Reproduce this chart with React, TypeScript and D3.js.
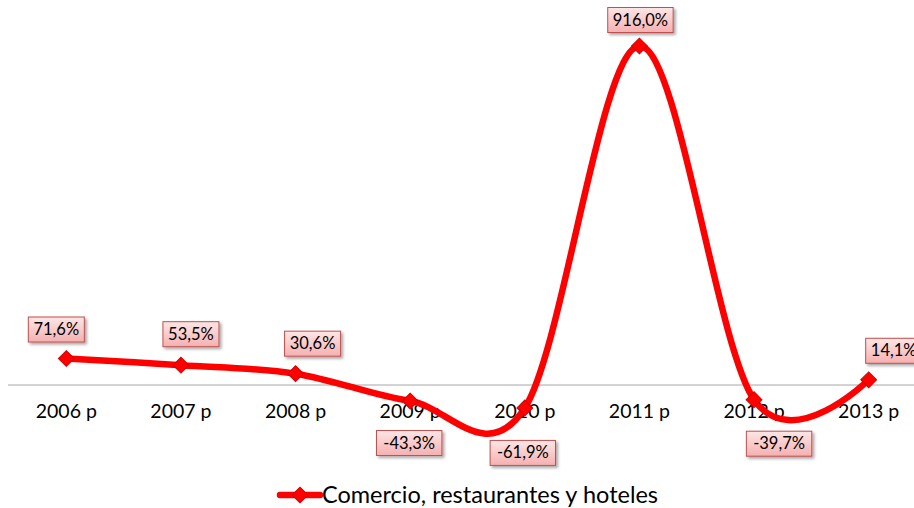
import * as d3 from "d3";

const years = ["2006 p", "2007 p", "2008 p", "2009 p", "2010 p", "2011 p", "2012 p", "2013 p"];
const values = [71.6, 53.5, 30.6, -43.3, -61.9, 916.0, -39.7, 14.1];
const labels = ["71,6%", "53,5%", "30,6%", "-43,3%", "-61,9%", "916,0%", "-39,7%", "14,1%"];
const seriesName = "Comercio, restaurantes y hoteles";

// manual label offsets, like the hand-placed labels in the original
const labelDx = [-10, 10, 17, -1, -2, 1, 25, 25];
const labelDy = [-29, -31, -30, 42, 45, -26, 44, -29];

const width = 914;
const height = 508;
const font = "Lato, 'Open Sans', sans-serif";

const App = () => {
  const x = d3.scaleBand<string>().domain(years).range([9, 926]);
  const y = d3.scaleLinear().domain([0, 916]).range([385, 46]);

  const pts: [number, number][] = values.map((v, i) => [
    (x(years[i]) ?? 0) + x.bandwidth() / 2,
    y(v),
  ]);

  const line = d3.line().curve(d3.curveCardinal.tension(0));
  const marker = d3.symbol().type(d3.symbolSquare).size(125)();

  return (
    <svg
      width={width}
      height={height}
      style={{ position: "fixed", left: 0, top: 0, background: "#fff" }}
    >
      <defs>
        <linearGradient id="lblFill" x1="0" y1="0" x2="0" y2="1">
          <stop offset="0%" stopColor="#fde6e6" />
          <stop offset="100%" stopColor="#f5b0b0" />
        </linearGradient>
        <filter id="shadow" x="-20%" y="-20%" width="150%" height="160%">
          <feDropShadow dx="2" dy="2" stdDeviation="1.5" floodColor="#000" floodOpacity="0.35" />
        </filter>
      </defs>

      {/* zero axis */}
      <line x1={8} x2={914} y1={y(0)} y2={y(0)} stroke="#a6a6a6" strokeWidth={1} />

      {years.map((yr) => (
        <text
          key={yr}
          x={(x(yr) ?? 0) + x.bandwidth() / 2}
          y={418}
          textAnchor="middle"
          fontFamily={font}
          fontSize={19.5}
          fill="#000"
        >
          {yr}
        </text>
      ))}

      <path d={line(pts) ?? ""} fill="none" stroke="#ff0000" strokeWidth={6.5} strokeLinejoin="round" />

      {pts.map(([px, py], i) => (
        <path
          key={i}
          d={marker ?? ""}
          transform={`translate(${px},${py}) rotate(45)`}
          fill="#ff0000"
          stroke="#d40000"
          strokeWidth={1}
        />
      ))}

      {pts.map(([px, py], i) => {
        const cx = px + labelDx[i];
        const cy = py + labelDy[i];
        const w = labels[i].length * 9.4 + 9;
        return (
          <g key={"l" + i}>
            <rect
              x={cx - w / 2}
              y={cy - 12.5}
              width={w}
              height={25}
              fill="url(#lblFill)"
              stroke="#c0504d"
              strokeWidth={1}
              filter="url(#shadow)"
            />
            <text
              x={cx}
              y={cy + 5.5}
              textAnchor="middle"
              fontFamily={font}
              fontSize={16.5}
              fill="#000"
            >
              {labels[i]}
            </text>
          </g>
        );
      })}

      {/* legend */}
      <g>
        <line x1={280} x2={320} y1={495} y2={495} stroke="#ff0000" strokeWidth={6.5} strokeLinecap="round" />
        <path d={marker ?? ""} transform="translate(300,495) rotate(45)" fill="#ff0000" stroke="#d40000" />
        <text x={322} y={503} fontFamily={font} fontSize={23.5} fill="#000">
          {seriesName}
        </text>
      </g>
    </svg>
  );
};

export default App;
